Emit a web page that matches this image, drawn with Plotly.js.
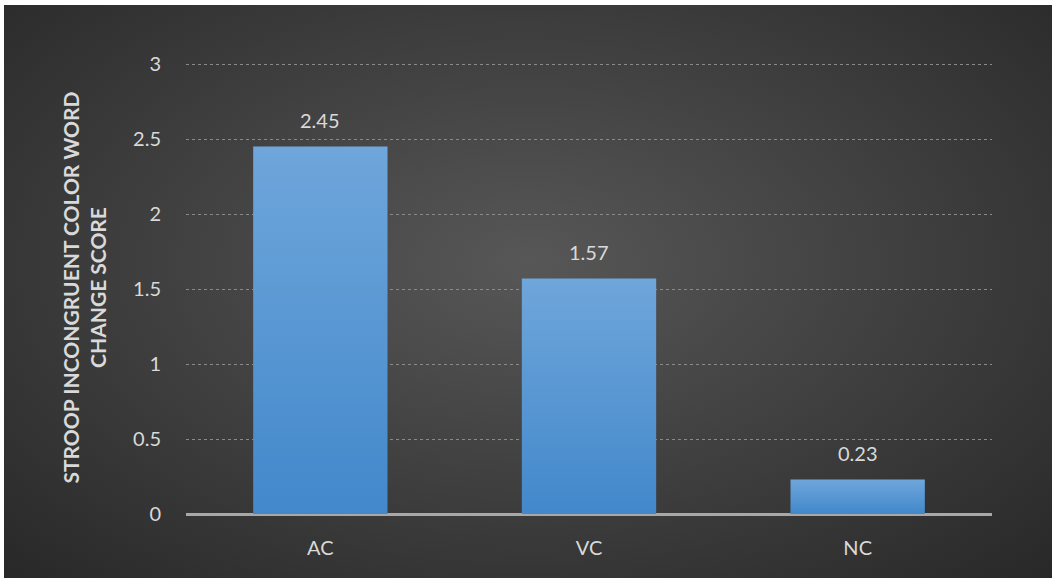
<!DOCTYPE html>
<html>
<head>
<meta charset="utf-8">
<script src="https://cdn.plot.ly/plotly-3.0.1.min.js"></script>
<style>
  html, body { margin: 0; padding: 0; background: #ffffff; width: 1053px; height: 578px; overflow: hidden; }
  #wrap { position: absolute; left: 4px; top: 5px; width: 1048px; height: 573px;
          background: radial-gradient(ellipse 75% 80% at 50% 45%, #575757 0%, #3c3c3c 55%, #262626 100%); }
  #chart { position: absolute; left: 0; top: 0; width: 1048px; height: 573px; }
</style>
</head>
<body>
<div id="wrap"><div id="chart"></div></div>
<script>
const categories = ["AC", "VC", "NC"];
const values = [2.45, 1.57, 0.23];
const labels = ["2.45", "1.57", "0.23"];
const yTicks = [0, 0.5, 1, 1.5, 2, 2.5, 3];
const yTickText = ["0", "0.5", "1", "1.5", "2", "2.5", "3"];

const FONT = "Lato, Open Sans, sans-serif";
const TXT = "#d9d9d9";

const trace = {
  type: "bar",
  x: categories,
  y: values,
  width: 0.5,
  marker: { color: "#5898d6", line: { width: 0 } },
  hoverinfo: "none"
};

const annotations = categories.map((c, i) => ({
  x: c, y: values[i], xref: "x", yref: "y",
  text: labels[i], showarrow: false,
  yanchor: "bottom", yshift: 13,
  font: { family: FONT, size: 20, color: TXT }
}));

const layout = {
  width: 1048, height: 573,
  paper_bgcolor: "rgba(0,0,0,0)",
  plot_bgcolor: "rgba(0,0,0,0)",
  margin: { l: 182, r: 60, t: 56, b: 64 },
  showlegend: false,
  bargap: 0.5,
  font: { family: FONT, size: 20, color: TXT },
  xaxis: {
    type: "category",
    showgrid: false,
    zeroline: false,
    showline: false,
    ticks: "",
    ticklabelstandoff: 20,
    tickfont: { family: FONT, size: 20, color: TXT }
  },
  yaxis: {
    range: [0, 3.02],
    tickvals: yTicks,
    ticktext: yTickText,
    showgrid: true,
    gridcolor: "#8a8a8a",
    gridwidth: 1,
    griddash: "dot",
    zeroline: true,
    zerolinecolor: "#a8a8a8",
    zerolinewidth: 3,
    showline: false,
    ticks: "",
    ticklabelstandoff: 24,
    tickfont: { family: FONT, size: 20, color: TXT },
    title: {
      text: "<b>STROOP INCONGRUENT COLOR WORD<br>CHANGE SCORE</b>",
      font: { family: FONT, size: 21, color: TXT },
      standoff: 20
    }
  },
  annotations: annotations
};

Plotly.newPlot("chart", [trace], layout, { displayModeBar: false, staticPlot: true }).then(function (gd) {
  const svg = gd.querySelector("svg.main-svg");
  const ns = "http://www.w3.org/2000/svg";
  let defs = svg.querySelector("defs");
  if (!defs) { defs = document.createElementNS(ns, "defs"); svg.insertBefore(defs, svg.firstChild); }
  const grad = document.createElementNS(ns, "linearGradient");
  grad.setAttribute("id", "barGrad");
  grad.setAttribute("x1", "0"); grad.setAttribute("y1", "0");
  grad.setAttribute("x2", "0"); grad.setAttribute("y2", "1");
  [["0", "#6fa6db"], ["1", "#4288cb"]].forEach(function (s) {
    const st = document.createElementNS(ns, "stop");
    st.setAttribute("offset", s[0]);
    st.setAttribute("stop-color", s[1]);
    grad.appendChild(st);
  });
  defs.appendChild(grad);
  gd.querySelectorAll(".bars .point path").forEach(function (p) {
    p.style.fill = "url(#barGrad)";
  });
});
</script>
</body>
</html>
